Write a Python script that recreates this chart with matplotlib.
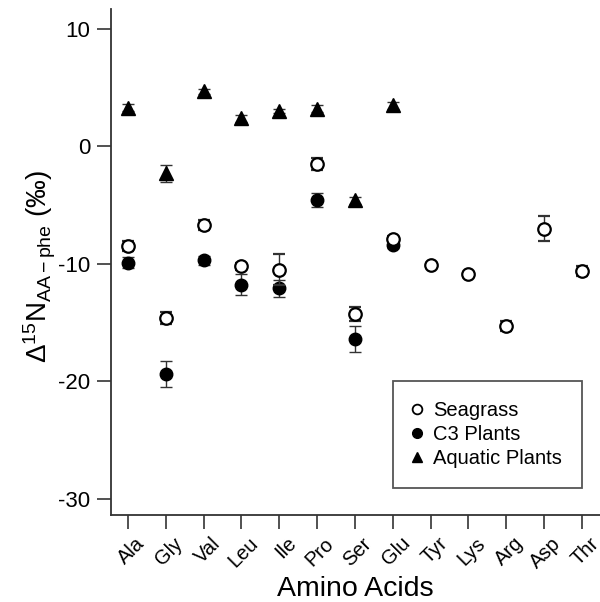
import matplotlib
matplotlib.use('Agg')
import matplotlib.pyplot as plt
from matplotlib.lines import Line2D
from matplotlib.transforms import ScaledTranslation

plt.rcParams['font.family'] = ['Liberation Sans', 'DejaVu Sans']
plt.rcParams['mathtext.fontset'] = 'custom'
plt.rcParams['mathtext.rm'] = 'Liberation Sans'
plt.rcParams['mathtext.it'] = 'Liberation Sans:italic'
plt.rcParams['axes.unicode_minus'] = False

amino = ['Ala', 'Gly', 'Val', 'Leu', 'Ile', 'Pro', 'Ser', 'Glu', 'Tyr', 'Lys', 'Arg', 'Asp', 'Thr']

seagrass = [-8.5, -14.6, -6.7, -10.2, -10.5, -1.5, -14.3, -7.9, -10.1, -10.9, -15.3, -7.0, -10.6]
seagrass_err = [0.4, 0.5, 0.4, 0.3, 1.3, 0.5, 0.6, 0.3, 0.2, 0.2, 0.4, 1.1, 0.4]

c3 = [-9.9, -19.4, -9.7, -11.8, -12.1, -4.6, -16.4, -8.4]
c3_err = [0.5, 1.1, 0.4, 0.9, 0.7, 0.6, 1.1, 0.3]

aquatic = [3.3, -2.3, 4.7, 2.4, 3.0, 3.2, -4.6, 3.5]
aquatic_err = [0.3, 0.7, 0.2, 0.3, 0.2, 0.3, 0.3, 0.3]

xs = list(range(1, len(amino) + 1))

fig = plt.figure(figsize=(6, 6.02), dpi=100, facecolor='w')
ax = fig.add_axes([111 / 600, 87 / 602, 489 / 600, 506 / 602])

ecol = '#333333'
ax.errorbar(xs, seagrass, yerr=seagrass_err, fmt='o', ms=9, mfc='w', mec='k', mew=1.6,
            ecolor=ecol, elinewidth=1.0, capsize=4.5, capthick=1.0, zorder=3)
ax.errorbar(xs[:len(c3)], c3, yerr=c3_err, fmt='o', ms=9, mfc='k', mec='k',
            ecolor=ecol, elinewidth=1.0, capsize=4.5, capthick=1.0, zorder=2)
ax.errorbar(xs[:len(aquatic)], aquatic, yerr=aquatic_err, fmt='^', ms=9.5, mfc='k', mec='k',
            ecolor=ecol, elinewidth=1.0, capsize=4.5, capthick=1.0, zorder=2)

ax.set_xlim(0.55, 13.48)
ax.set_ylim(-31.4, 11.7)
ax.set_yticks([-30, -20, -10, 0, 10])
ax.set_xticks(xs)

for s in ['top', 'right']:
    ax.spines[s].set_visible(False)
for s in ['left', 'bottom']:
    ax.spines[s].set_color('#333333')
    ax.spines[s].set_linewidth(1.3)
ax.tick_params(axis='both', direction='out', length=10, width=1.2, color='#333333',
               labelsize=16)
ax.tick_params(axis='x', labelsize=14.5, pad=4)
ax.tick_params(axis='y', pad=5)

ax.set_xticklabels(amino, rotation=45, ha='right', va='center', rotation_mode='anchor')
shift = ScaledTranslation(14 / 100, -6 / 100, fig.dpi_scale_trans)
for lab in ax.get_xticklabels():
    lab.set_transform(lab.get_transform() + shift)

ax.set_xlabel('Amino Acids', fontsize=20.5)
ax.xaxis.set_label_coords(0.5, -0.121)
ax.set_ylabel(r'$\Delta^{15}$N$_{\mathrm{AA-phe}}$ (‰)', fontsize=20)
ax.yaxis.set_label_coords(-0.108, 0.49)

handles = [Line2D([], [], ls='none', marker='o', ms=7, mfc='w', mec='k', mew=1.3),
           Line2D([], [], ls='none', marker='o', ms=7, mfc='k', mec='k'),
           Line2D([], [], ls='none', marker='^', ms=7.5, mfc='k', mec='k')]
leg = ax.legend(handles, ['Seagrass', 'C3 Plants', 'Aquatic Plants'], loc='upper left',
                bbox_to_anchor=(0.577, 0.265), borderaxespad=0, fontsize=14.5,
                handlelength=0.4, handletextpad=0.6, labelspacing=0.25,
                borderpad=1.0, fancybox=False, edgecolor='#555555', framealpha=1)
leg.get_frame().set_linewidth(1.3)

plt.savefig('out.png', dpi=100)
